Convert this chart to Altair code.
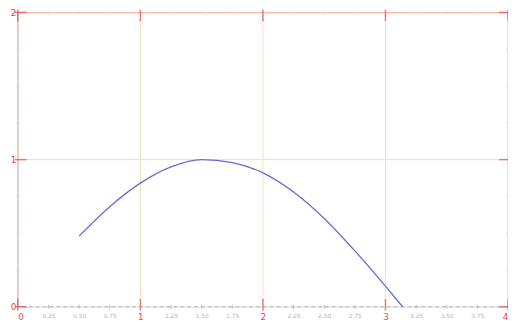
import altair as alt
import pandas as pd

# curve readings
curve_x = [0.5, 0.75, 1.0, 1.25, 1.5, 1.75, 2.0, 2.25, 2.5, 2.75, 3.0, 3.14]
curve_y = [0.48, 0.68, 0.84, 0.95, 1.0, 0.98, 0.91, 0.78, 0.60, 0.38, 0.14, 0.0]

x_major = [0, 1, 2, 3, 4]
y_major = [0, 1, 2]
x_minor = [0.25, 0.5, 0.75, 1.25, 1.5, 1.75, 2.25, 2.5, 2.75, 3.25, 3.5, 3.75]
y_minor = [0.25, 0.5, 0.75, 1.25, 1.5, 1.75]
x_labels = [0, 0.25, 0.5, 0.75, 1, 1.25, 1.5, 1.75, 2, 2.25, 2.5, 2.75, 3, 3.25, 3.5, 3.75, 4]
grid_x = [1, 2, 3]
grid_y = [1]

RED = "#e04a4a"
GRID = "#f3dfb8"
BORDER = "#f4b8a0"

xs = alt.Scale(domain=[0, 4], nice=False, zero=False)
ys = alt.Scale(domain=[0, 2], nice=False, zero=False)

curve_df = pd.DataFrame({"x": curve_x, "y": curve_y})
gx = pd.DataFrame({"x": grid_x})
gy = pd.DataFrame({"y": grid_y})


def xticks(vals, yval):
    return pd.DataFrame({"x": vals, "y": [yval] * len(vals)})


def yticks(vals, xval):
    return pd.DataFrame({"y": vals, "x": [xval] * len(vals)})


xaxis = alt.Axis(
    values=x_labels, ticks=False, domain=False, grid=False, title=None,
    labelExpr="datum.value % 1 === 0 ? format(datum.value, 'd') : format(datum.value, '.2f')",
    labelColor={"expr": "datum.value % 1 === 0 ? '" + RED + "' : '#b4b4b4'"},
    labelFontSize={"expr": "datum.value % 1 === 0 ? 9 : 6"},
    labelPadding=6, labelFont="DejaVu Sans", labelFlush=True, labelOverlap=False,
)
yaxis = alt.Axis(
    values=y_major, ticks=False, domain=False, grid=False, title=None,
    labelColor=RED, labelFontSize=9, labelPadding=2, labelFont="DejaVu Sans",
    labelFlush=False, labelOverlap=False, labelExpr="format(datum.value, 'd')",
)

X = lambda: alt.X("x:Q", scale=xs, axis=xaxis)
Y = lambda: alt.Y("y:Q", scale=ys, axis=yaxis)

grid_v = alt.Chart(gx).mark_rule(color=GRID, strokeWidth=1).encode(x=X())
grid_h = alt.Chart(gy).mark_rule(color=GRID, strokeWidth=1).encode(y=Y())

top = alt.Chart(pd.DataFrame({"y": [2]})).mark_rule(color=BORDER, strokeWidth=1).encode(y=Y())
right = alt.Chart(pd.DataFrame({"x": [4]})).mark_rule(color=BORDER, strokeWidth=1).encode(x=X())
left = alt.Chart(pd.DataFrame({"x": [0]})).mark_rule(color="#f2a8a0", strokeWidth=1).encode(x=X())
bottom = alt.Chart(pd.DataFrame({"y": [0]})).mark_rule(color="#b8b8b8", strokeWidth=1, strokeDash=[4, 3]).encode(y=Y())

tick_bottom = alt.Chart(xticks(x_major, 0)).mark_tick(orient="vertical", size=12, thickness=1.5, color=RED, yOffset=-2).encode(x=X(), y=Y())
tick_top = alt.Chart(xticks(x_major, 2)).mark_tick(orient="vertical", size=12, thickness=1.5, color=RED, yOffset=3).encode(x=X(), y=Y())
tick_left = alt.Chart(yticks(y_major, 0)).mark_tick(orient="horizontal", size=12, thickness=1.5, color=RED, xOffset=3).encode(x=X(), y=Y())
tick_right = alt.Chart(yticks(y_major, 4)).mark_tick(orient="horizontal", size=12, thickness=1.5, color=RED, xOffset=-3).encode(x=X(), y=Y())

mt_bottom = alt.Chart(xticks(x_minor, 0)).mark_tick(orient="vertical", size=4, thickness=1, color="#a8a8a8").encode(x=X(), y=Y())
mt_top = alt.Chart(xticks(x_minor, 2)).mark_tick(orient="vertical", size=4, thickness=1, color="#d8d8d8").encode(x=X(), y=Y())
mt_left = alt.Chart(yticks(y_minor, 0)).mark_tick(orient="horizontal", size=4, thickness=1, color="#d8d8d8").encode(x=X(), y=Y())
mt_right = alt.Chart(yticks(y_minor, 4)).mark_tick(orient="horizontal", size=4, thickness=1, color="#d8d8d8").encode(x=X(), y=Y())

curve = alt.Chart(curve_df).mark_line(color="#6a6ad0", strokeWidth=1.3, interpolate="monotone").encode(
    x=X(), y=Y(),
)

chart = alt.layer(
    grid_v, grid_h, top, right, left, bottom,
    mt_bottom, mt_top, mt_left, mt_right,
    tick_bottom, tick_top, tick_left, tick_right,
    curve,
).properties(
    width=498, height=299,
    autosize=alt.AutoSizeParams(type="none"),
    padding={"left": 10, "top": 2, "right": 0, "bottom": 15},
).configure_view(stroke=None).configure(background="white")

chart.save("out.html", embed_options={"renderer": "svg", "actions": False})
